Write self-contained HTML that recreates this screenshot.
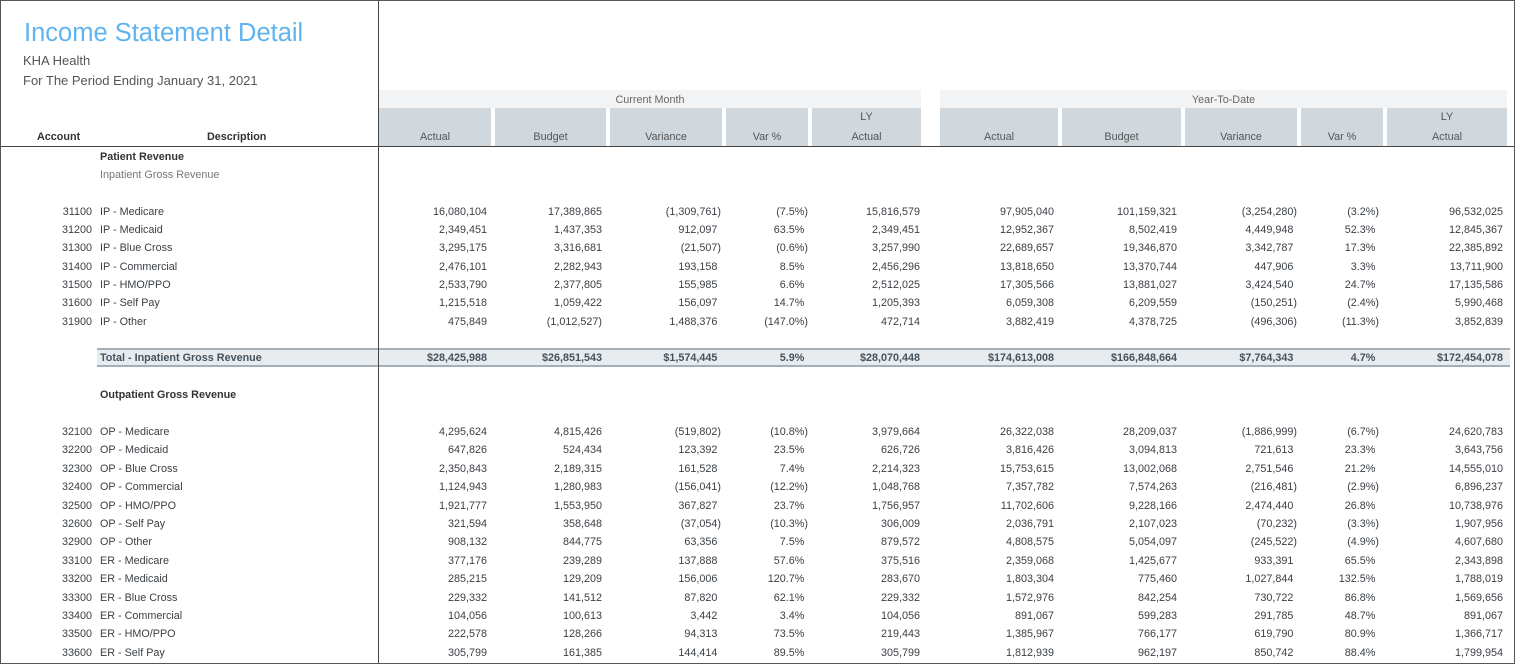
<!DOCTYPE html>
<html><head><meta charset="utf-8"><style>
*{margin:0;padding:0;box-sizing:border-box}
body{width:1515px;height:664px;background:#fff;position:relative;overflow:hidden;font-family:"Liberation Sans",sans-serif;font-size:10.8px;color:#3a3f44}
#frame{position:absolute;left:0;top:0;width:1515px;height:664px;border:1px solid #555;z-index:5;pointer-events:none}
.a{position:absolute;white-space:nowrap}
.r{position:absolute;white-space:nowrap;top:0;line-height:14px;text-align:right}
.row{position:absolute;left:0;width:1515px;height:14px;line-height:14px;margin-top:1px}
.acc{right:1423px}.desc{left:100px;position:absolute}
.c1{right:1028px}.c2{right:913px}.c3{right:794px}.c4{right:707px}.c5{right:595px}
.c6{right:461px}.c7{right:338px}.c8{right:218px}.c9{right:136px}.c10{right:12px}
.n::after{content:")";visibility:hidden}
.hb{position:absolute;background:#d0d8de;top:108px;height:38px;color:#555;text-align:center;font-size:10.8px}
.hb span{position:absolute;left:0;right:0;bottom:3px}
.hb i{position:absolute;left:0;right:0;top:3px;font-style:normal}
.b{font-weight:bold}
</style></head><body>
<div id="frame"></div>
<div class="a" style="left:24px;top:19px;font-size:25.5px;color:#5fb4f0">Income Statement Detail</div>
<div class="a" style="left:23px;top:53px;font-size:13px;color:#555">KHA Health</div>
<div class="a" style="left:23px;top:73px;font-size:13px;color:#555">For The Period Ending January 31, 2021</div>
<div class="a" style="left:378px;top:0;width:1px;height:664px;background:#444;z-index:4"></div>
<div class="a" style="left:0;top:146px;width:1515px;height:1px;background:#444;z-index:4"></div>
<div class="a" style="left:379px;top:90px;width:542px;height:18px;background:#f2f3f4;text-align:center;line-height:20px;color:#666">Current Month</div>
<div class="a" style="left:940px;top:90px;width:567px;height:18px;background:#f2f3f4;text-align:center;line-height:20px;color:#666">Year-To-Date</div>
<div class="hb" style="left:379px;width:112px"><span>Actual</span></div>
<div class="hb" style="left:495px;width:111px"><span>Budget</span></div>
<div class="hb" style="left:610px;width:112px"><span>Variance</span></div>
<div class="hb" style="left:726px;width:82px"><span>Var %</span></div>
<div class="hb" style="left:812px;width:109px"><i>LY</i><span>Actual</span></div>
<div class="hb" style="left:940px;width:118px"><span>Actual</span></div>
<div class="hb" style="left:1062px;width:119px"><span>Budget</span></div>
<div class="hb" style="left:1185px;width:112px"><span>Variance</span></div>
<div class="hb" style="left:1301px;width:82px"><span>Var %</span></div>
<div class="hb" style="left:1387px;width:120px"><i>LY</i><span>Actual</span></div>
<div class="a b" style="left:37px;top:131px;color:#333">Account</div>
<div class="a b" style="left:207px;top:131px;color:#333">Description</div>

<div class="row b" style="top:149px;color:#333"><span class="desc">Patient Revenue</span></div>
<div class="row" style="top:167px;color:#777"><span class="desc">Inpatient Gross Revenue</span></div>

<div class="row" style="top:204px"><span class="r acc">31100</span><span class="desc">IP - Medicare</span><span class="r c1">16,080,104</span><span class="r c2">17,389,865</span><span class="r c3">(1,309,761)</span><span class="r c4">(7.5%)</span><span class="r c5">15,816,579</span><span class="r c6">97,905,040</span><span class="r c7">101,159,321</span><span class="r c8">(3,254,280)</span><span class="r c9">(3.2%)</span><span class="r c10">96,532,025</span></div>
<div class="row" style="top:222px"><span class="r acc">31200</span><span class="desc">IP - Medicaid</span><span class="r c1">2,349,451</span><span class="r c2">1,437,353</span><span class="r c3 n">912,097</span><span class="r c4 n">63.5%</span><span class="r c5">2,349,451</span><span class="r c6">12,952,367</span><span class="r c7">8,502,419</span><span class="r c8 n">4,449,948</span><span class="r c9 n">52.3%</span><span class="r c10">12,845,367</span></div>
<div class="row" style="top:240px"><span class="r acc">31300</span><span class="desc">IP - Blue Cross</span><span class="r c1">3,295,175</span><span class="r c2">3,316,681</span><span class="r c3">(21,507)</span><span class="r c4">(0.6%)</span><span class="r c5">3,257,990</span><span class="r c6">22,689,657</span><span class="r c7">19,346,870</span><span class="r c8 n">3,342,787</span><span class="r c9 n">17.3%</span><span class="r c10">22,385,892</span></div>
<div class="row" style="top:259px"><span class="r acc">31400</span><span class="desc">IP - Commercial</span><span class="r c1">2,476,101</span><span class="r c2">2,282,943</span><span class="r c3 n">193,158</span><span class="r c4 n">8.5%</span><span class="r c5">2,456,296</span><span class="r c6">13,818,650</span><span class="r c7">13,370,744</span><span class="r c8 n">447,906</span><span class="r c9 n">3.3%</span><span class="r c10">13,711,900</span></div>
<div class="row" style="top:277px"><span class="r acc">31500</span><span class="desc">IP - HMO/PPO</span><span class="r c1">2,533,790</span><span class="r c2">2,377,805</span><span class="r c3 n">155,985</span><span class="r c4 n">6.6%</span><span class="r c5">2,512,025</span><span class="r c6">17,305,566</span><span class="r c7">13,881,027</span><span class="r c8 n">3,424,540</span><span class="r c9 n">24.7%</span><span class="r c10">17,135,586</span></div>
<div class="row" style="top:295px"><span class="r acc">31600</span><span class="desc">IP - Self Pay</span><span class="r c1">1,215,518</span><span class="r c2">1,059,422</span><span class="r c3 n">156,097</span><span class="r c4 n">14.7%</span><span class="r c5">1,205,393</span><span class="r c6">6,059,308</span><span class="r c7">6,209,559</span><span class="r c8">(150,251)</span><span class="r c9">(2.4%)</span><span class="r c10">5,990,468</span></div>
<div class="row" style="top:314px"><span class="r acc">31900</span><span class="desc">IP - Other</span><span class="r c1">475,849</span><span class="r c2">(1,012,527)</span><span class="r c3 n">1,488,376</span><span class="r c4">(147.0%)</span><span class="r c5">472,714</span><span class="r c6">3,882,419</span><span class="r c7">4,378,725</span><span class="r c8">(496,306)</span><span class="r c9">(11.3%)</span><span class="r c10">3,852,839</span></div>

<div class="a" style="left:97px;top:348px;width:1413px;height:19px;background:#e8ecef;border-top:2px solid #a3b0ba;border-bottom:2px solid #a3b0ba"></div>
<div class="row b" style="top:350px;color:#46525c"><span class="desc">Total - Inpatient Gross Revenue</span><span class="r c1">$28,425,988</span><span class="r c2">$26,851,543</span><span class="r c3 n">$1,574,445</span><span class="r c4 n">5.9%</span><span class="r c5">$28,070,448</span><span class="r c6">$174,613,008</span><span class="r c7">$166,848,664</span><span class="r c8 n">$7,764,343</span><span class="r c9 n">4.7%</span><span class="r c10">$172,454,078</span></div>

<div class="row b" style="top:387px;color:#333"><span class="desc">Outpatient Gross Revenue</span></div>

<div class="row" style="top:424px"><span class="r acc">32100</span><span class="desc">OP - Medicare</span><span class="r c1">4,295,624</span><span class="r c2">4,815,426</span><span class="r c3">(519,802)</span><span class="r c4">(10.8%)</span><span class="r c5">3,979,664</span><span class="r c6">26,322,038</span><span class="r c7">28,209,037</span><span class="r c8">(1,886,999)</span><span class="r c9">(6.7%)</span><span class="r c10">24,620,783</span></div>
<div class="row" style="top:442.4px"><span class="r acc">32200</span><span class="desc">OP - Medicaid</span><span class="r c1">647,826</span><span class="r c2">524,434</span><span class="r c3 n">123,392</span><span class="r c4 n">23.5%</span><span class="r c5">626,726</span><span class="r c6">3,816,426</span><span class="r c7">3,094,813</span><span class="r c8 n">721,613</span><span class="r c9 n">23.3%</span><span class="r c10">3,643,756</span></div>
<div class="row" style="top:460.8px"><span class="r acc">32300</span><span class="desc">OP - Blue Cross</span><span class="r c1">2,350,843</span><span class="r c2">2,189,315</span><span class="r c3 n">161,528</span><span class="r c4 n">7.4%</span><span class="r c5">2,214,323</span><span class="r c6">15,753,615</span><span class="r c7">13,002,068</span><span class="r c8 n">2,751,546</span><span class="r c9 n">21.2%</span><span class="r c10">14,555,010</span></div>
<div class="row" style="top:479.2px"><span class="r acc">32400</span><span class="desc">OP - Commercial</span><span class="r c1">1,124,943</span><span class="r c2">1,280,983</span><span class="r c3">(156,041)</span><span class="r c4">(12.2%)</span><span class="r c5">1,048,768</span><span class="r c6">7,357,782</span><span class="r c7">7,574,263</span><span class="r c8">(216,481)</span><span class="r c9">(2.9%)</span><span class="r c10">6,896,237</span></div>
<div class="row" style="top:497.6px"><span class="r acc">32500</span><span class="desc">OP - HMO/PPO</span><span class="r c1">1,921,777</span><span class="r c2">1,553,950</span><span class="r c3 n">367,827</span><span class="r c4 n">23.7%</span><span class="r c5">1,756,957</span><span class="r c6">11,702,606</span><span class="r c7">9,228,166</span><span class="r c8 n">2,474,440</span><span class="r c9 n">26.8%</span><span class="r c10">10,738,976</span></div>
<div class="row" style="top:516px"><span class="r acc">32600</span><span class="desc">OP - Self Pay</span><span class="r c1">321,594</span><span class="r c2">358,648</span><span class="r c3">(37,054)</span><span class="r c4">(10.3%)</span><span class="r c5">306,009</span><span class="r c6">2,036,791</span><span class="r c7">2,107,023</span><span class="r c8">(70,232)</span><span class="r c9">(3.3%)</span><span class="r c10">1,907,956</span></div>
<div class="row" style="top:534.4px"><span class="r acc">32900</span><span class="desc">OP - Other</span><span class="r c1">908,132</span><span class="r c2">844,775</span><span class="r c3 n">63,356</span><span class="r c4 n">7.5%</span><span class="r c5">879,572</span><span class="r c6">4,808,575</span><span class="r c7">5,054,097</span><span class="r c8">(245,522)</span><span class="r c9">(4.9%)</span><span class="r c10">4,607,680</span></div>
<div class="row" style="top:552.8px"><span class="r acc">33100</span><span class="desc">ER - Medicare</span><span class="r c1">377,176</span><span class="r c2">239,289</span><span class="r c3 n">137,888</span><span class="r c4 n">57.6%</span><span class="r c5">375,516</span><span class="r c6">2,359,068</span><span class="r c7">1,425,677</span><span class="r c8 n">933,391</span><span class="r c9 n">65.5%</span><span class="r c10">2,343,898</span></div>
<div class="row" style="top:571.2px"><span class="r acc">33200</span><span class="desc">ER - Medicaid</span><span class="r c1">285,215</span><span class="r c2">129,209</span><span class="r c3 n">156,006</span><span class="r c4 n">120.7%</span><span class="r c5">283,670</span><span class="r c6">1,803,304</span><span class="r c7">775,460</span><span class="r c8 n">1,027,844</span><span class="r c9 n">132.5%</span><span class="r c10">1,788,019</span></div>
<div class="row" style="top:589.6px"><span class="r acc">33300</span><span class="desc">ER - Blue Cross</span><span class="r c1">229,332</span><span class="r c2">141,512</span><span class="r c3 n">87,820</span><span class="r c4 n">62.1%</span><span class="r c5">229,332</span><span class="r c6">1,572,976</span><span class="r c7">842,254</span><span class="r c8 n">730,722</span><span class="r c9 n">86.8%</span><span class="r c10">1,569,656</span></div>
<div class="row" style="top:608px"><span class="r acc">33400</span><span class="desc">ER - Commercial</span><span class="r c1">104,056</span><span class="r c2">100,613</span><span class="r c3 n">3,442</span><span class="r c4 n">3.4%</span><span class="r c5">104,056</span><span class="r c6">891,067</span><span class="r c7">599,283</span><span class="r c8 n">291,785</span><span class="r c9 n">48.7%</span><span class="r c10">891,067</span></div>
<div class="row" style="top:626.4px"><span class="r acc">33500</span><span class="desc">ER - HMO/PPO</span><span class="r c1">222,578</span><span class="r c2">128,266</span><span class="r c3 n">94,313</span><span class="r c4 n">73.5%</span><span class="r c5">219,443</span><span class="r c6">1,385,967</span><span class="r c7">766,177</span><span class="r c8 n">619,790</span><span class="r c9 n">80.9%</span><span class="r c10">1,366,717</span></div>
<div class="row" style="top:644.8px"><span class="r acc">33600</span><span class="desc">ER - Self Pay</span><span class="r c1">305,799</span><span class="r c2">161,385</span><span class="r c3 n">144,414</span><span class="r c4 n">89.5%</span><span class="r c5">305,799</span><span class="r c6">1,812,939</span><span class="r c7">962,197</span><span class="r c8 n">850,742</span><span class="r c9 n">88.4%</span><span class="r c10">1,799,954</span></div>
</body></html>
